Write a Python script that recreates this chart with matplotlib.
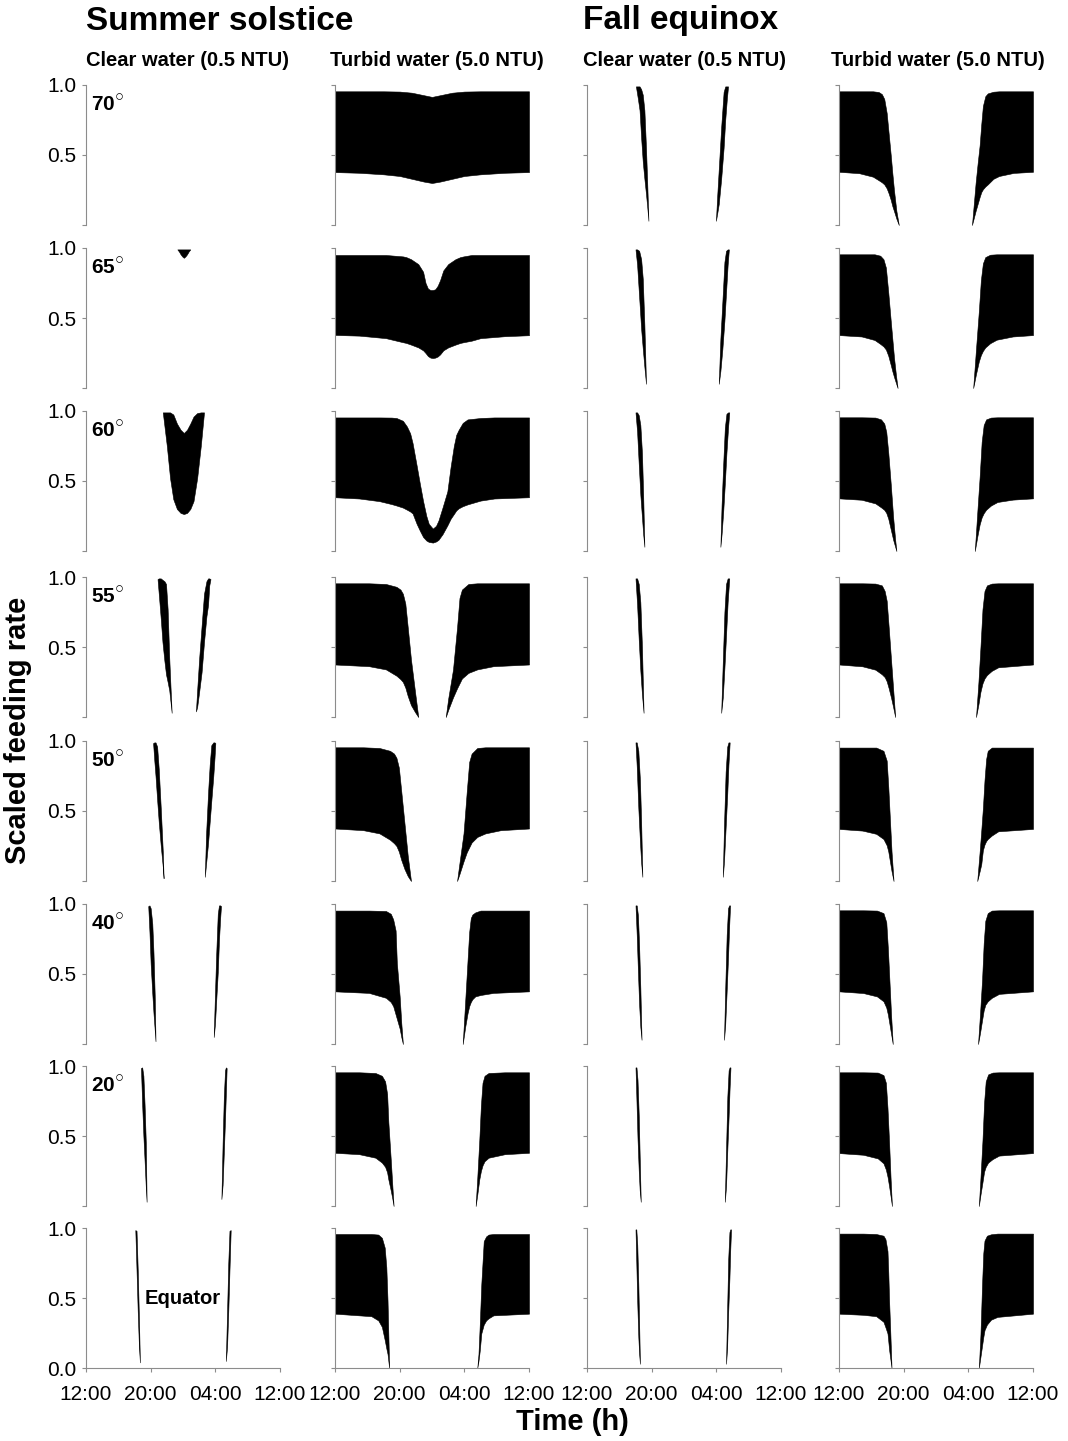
import matplotlib
matplotlib.use("Agg")
import matplotlib.pyplot as plt

plt.rcParams['font.family'] = ['Liberation Sans', 'DejaVu Sans']
plt.rcParams['mathtext.fontset'] = 'custom'
plt.rcParams['mathtext.rm'] = 'Liberation Sans'
plt.rcParams['mathtext.bf'] = 'Liberation Sans:bold'

############### DATA ###############
# time is hours after 12:00 (0..24); each segment is a list of (hour, upper, lower)

LATITUDES = ['70', '65', '60', '55', '50', '40', '20', 'Equator']
TIME_TICKS = [0, 8, 16, 24]
TIME_LABELS = ['12:00', '20:00', '04:00', '12:00']
SEASONS = ['Summer solstice', 'Fall equinox']
WATER = ['Clear water (0.5 NTU)', 'Turbid water (5.0 NTU)']

# --- summer solstice, clear water ---
SC_70 = []
SC_65 = [[(11.3, .99, .99), (11.5, .99, .975), (11.7, .99, .955), (11.9, .99, .94),
          (12.1, .99, .93), (12.3, .99, .94), (12.5, .99, .955), (12.7, .99, .975),
          (12.9, .99, .99)]]
SC_60 = [[(9.5, .99, .99), (9.75, .99, .87), (10.0, .99, .75), (10.4, .99, .52),
          (10.8, .975, .37), (11.25, .91, .30), (11.7, .866, .272), (12.1, .843, .264),
          (12.5, .866, .272), (12.9, .91, .30), (13.3, .96, .356), (13.75, .985, .52),
          (14.2, .99, .75), (14.4, .99, .87), (14.6, .99, .99)]]
SC_55 = [[(8.85, .985, .985), (9.0, .99, .88), (9.25, .99, .70), (9.46, .98, .535),
          (9.7, .97, .40), (9.9, .95, .304), (10.1, .77, .25), (10.3, .42, .19),
          (10.45, .22, .11), (10.6, .03, .03)],
         [(13.6, .04, .04), (13.75, .19, .07), (14.0, .42, .18), (14.3, .65, .32),
          (14.6, .88, .535), (14.9, .97, .72), (15.1, .99, .80), (15.25, .99, .94),
          (15.4, .985, .985)]]
SC_50 = [[(8.3, .985, .985), (8.45, .99, .86), (8.6, .99, .75), (8.8, .96, .58),
          (9.0, .80, .42), (9.25, .52, .25), (9.5, .21, .10), (9.6, .02, .02)],
         [(14.7, .03, .03), (14.85, .33, .12), (15.1, .63, .27), (15.3, .83, .42),
          (15.5, .97, .57), (15.75, .99, .75), (15.9, .99, .88), (16.0, .985, .985)]]
SC_40 = [[(7.7, .985, .985), (7.85, .99, .80), (8.0, .97, .57), (8.2, .86, .36),
          (8.35, .65, .22), (8.5, .35, .10), (8.6, .02, .02)],
         [(15.8, .05, .05), (15.95, .35, .14), (16.1, .63, .30), (16.3, .93, .51),
          (16.45, .99, .74), (16.6, .99, .90), (16.7, .985, .985)]]
SC_20 = [[(6.8, .985, .985), (6.95, .99, .72), (7.1, .93, .50), (7.25, .72, .32),
          (7.4, .45, .13), (7.5, .03, .03)],
         [(16.75, .05, .05), (16.9, .45, .15), (17.05, .78, .38), (17.2, .97, .62),
          (17.3, .99, .80), (17.4, .985, .985)]]
SC_EQ = [[(6.1, .985, .985), (6.25, .98, .70), (6.4, .70, .40), (6.55, .35, .15),
          (6.67, .04, .04)],
         [(17.3, .05, .05), (17.45, .40, .15), (17.6, .75, .40), (17.75, .98, .70),
          (17.9, .985, .985)]]

# --- summer solstice, turbid water ---
ST_70 = [[(0, .955, .378), (3, .955, .373), (6, .955, .362), (8, .953, .35),
          (9.5, .945, .33), (11, .927, .31), (12, .915, .30), (13, .927, .31),
          (14.5, .945, .33), (16, .953, .35), (18, .955, .362), (21, .955, .373),
          (24, .955, .378)]]
ST_65 = [[(0, .95, .379), (3, .95, .374), (6.3, .95, .356), (8.4, .94, .327),
          (8.8, .935, .322), (9.4, .92, .31), (10.3, .885, .29), (10.9, .83, .269),
          (11.2, .75, .25), (11.5, .71, .228), (11.8, .70, .217), (12.1, .70, .214),
          (12.4, .705, .217), (12.7, .73, .225), (13.0, .77, .24), (13.4, .84, .269),
          (14.0, .885, .29), (14.9, .92, .31), (15.5, .935, .322), (15.9, .94, .327),
          (16.9, .95, .338), (18, .95, .356), (21, .95, .37), (24, .95, .377)]]
ST_60 = [[(0, .954, .384), (3, .954, .375), (5.5, .954, .356), (7.0, .953, .335),
          (7.6, .95, .325), (8.4, .93, .31), (8.9, .889, .295), (9.3, .84, .282),
          (9.6, .77, .268), (10.1, .611, .194), (10.5, .48, .145), (10.9, .356, .10),
          (11.3, .25, .075), (11.6, .194, .065), (12.1, .16, .06), (12.5, .18, .068),
          (12.8, .218, .08), (13.3, .31, .12), (13.9, .426, .183), (14.3, .60, .23),
          (14.7, .75, .264), (15.0, .83, .29), (15.3, .866, .305), (15.8, .915, .32),
          (16.4, .94, .333), (18, .95, .36), (19.7, .954, .375), (24, .954, .384)]]
ST_55 = [[(0, .955, .375), (4.2, .955, .363), (6.3, .95, .34), (7.6, .93, .295),
          (8.1, .91, .27), (8.4, .88, .25), (8.7, .81, .21), (9.0, .64, .15),
          (9.4, .41, .085), (9.9, .18, .035), (10.3, 0, 0)],
         [(13.7, 0, 0), (14.0, .13, .05), (14.6, .34, .14), (15.1, .64, .205),
          (15.4, .85, .24), (15.7, .91, .275), (16.5, .95, .315), (17.6, .955, .34),
          (19.6, .955, .363), (24, .955, .375)]]
ST_50 = [[(0, .955, .375), (3.5, .955, .363), (5.5, .95, .34), (6.8, .93, .295),
          (7.3, .91, .27), (7.6, .88, .25), (7.9, .81, .21), (8.2, .64, .15),
          (8.6, .41, .085), (9.0, .18, .035), (9.4, 0, 0)],
         [(15.1, 0, 0), (15.4, .13, .05), (15.9, .34, .14), (16.3, .64, .205),
          (16.6, .85, .24), (16.9, .91, .275), (17.6, .95, .315), (18.6, .955, .34),
          (20.5, .955, .363), (24, .955, .375)]]
ST_40 = [[(0, .953, .376), (4.2, .953, .365), (6.3, .95, .33), (6.9, .93, .30),
          (7.2, .89, .27), (7.5, .81, .21), (7.65, .58, .18), (8.0, .34, .11),
          (8.2, .15, .05), (8.4, 0, 0)],
         [(15.8, 0, 0), (16.1, .30, .12), (16.4, .60, .22), (16.6, .80, .27),
          (16.8, .90, .30), (17.0, .925, .32), (17.35, .94, .34), (18.0, .953, .35),
          (19.6, .953, .365), (24, .953, .376)]]
ST_20 = [[(0, .955, .38), (3.0, .955, .37), (5.0, .95, .345), (5.8, .93, .31),
          (6.2, .89, .28), (6.45, .80, .24), (6.6, .60, .19), (6.9, .33, .11),
          (7.1, .14, .05), (7.25, 0, 0)],
         [(17.4, 0, 0), (17.6, .20, .08), (17.85, .47, .19), (18.05, .72, .25),
          (18.25, .88, .29), (18.5, .93, .32), (19.0, .95, .345), (21, .955, .37),
          (24, .955, .38)]]
ST_EQ = [[(0, .957, .388), (4.5, .957, .37), (5.35, .953, .34), (5.8, .93, .294),
          (6.15, .86, .20), (6.35, .72, .14), (6.5, .48, .10), (6.7, 0, 0)],
         [(17.6, 0, 0), (17.75, .10, .05), (17.9, .30, .12), (18.1, .60, .247),
          (18.4, .906, .31), (18.7, .94, .34), (19.0, .953, .355), (19.6, .957, .376),
          (24, .957, .388)]]

# --- fall equinox, clear water ---
FC_70 = [[(6.05, .99, .99), (6.3, .99, .90), (6.5, .99, .82), (6.7, .97, .62),
          (6.9, .93, .45), (7.1, .82, .33), (7.3, .55, .22), (7.45, .30, .13),
          (7.6, .03, .03)],
         [(15.95, .03, .03), (16.1, .20, .08), (16.3, .40, .15), (16.6, .70, .33),
          (16.9, .95, .55), (17.1, .99, .75), (17.3, .99, .90), (17.45, .99, .99)]]
FC_65 = [[(6.0, .99, .99), (6.2, .99, .88), (6.45, .98, .65), (6.7, .92, .42),
          (6.9, .78, .28), (7.1, .45, .15), (7.3, .03, .03)],
         [(16.3, .03, .03), (16.5, .35, .12), (16.75, .62, .28), (17.0, .90, .48),
          (17.2, .98, .68), (17.4, .99, .88), (17.55, .99, .99)]]
FC_60 = [[(6.0, .99, .99), (6.2, .99, .85), (6.4, .97, .62), (6.6, .90, .40),
          (6.8, .70, .24), (6.95, .40, .12), (7.1, .03, .03)],
         [(16.5, .03, .03), (16.65, .33, .12), (16.85, .62, .28), (17.05, .88, .48),
          (17.25, .98, .70), (17.45, .99, .88), (17.6, .99, .99)]]
FC_55 = [[(6.0, .99, .99), (6.2, .99, .80), (6.4, .95, .55), (6.6, .82, .33),
          (6.8, .50, .16), (7.0, .03, .03)],
         [(16.6, .03, .03), (16.8, .40, .14), (17.0, .75, .35), (17.2, .95, .58),
          (17.4, .99, .82), (17.6, .99, .99)]]
FC_50 = [[(6.0, .99, .99), (6.15, .99, .82), (6.35, .93, .52), (6.55, .72, .28),
          (6.7, .42, .13), (6.85, .03, .03)],
         [(16.8, .03, .03), (16.95, .40, .14), (17.15, .78, .38), (17.35, .96, .62),
          (17.5, .99, .83), (17.65, .99, .99)]]
FC_40 = [[(6.0, .99, .99), (6.15, .99, .78), (6.3, .92, .52), (6.45, .70, .28),
          (6.6, .40, .12), (6.75, .03, .03)],
         [(16.95, .03, .03), (17.1, .40, .14), (17.28, .78, .38), (17.45, .97, .62),
          (17.58, .99, .83), (17.7, .99, .99)]]
FC_20 = [[(6.0, .99, .99), (6.12, .99, .75), (6.25, .90, .48), (6.4, .65, .25),
          (6.52, .35, .11), (6.65, .03, .03)],
         [(17.05, .03, .03), (17.2, .40, .14), (17.36, .78, .40), (17.52, .97, .64),
          (17.64, .99, .84), (17.75, .99, .99)]]
FC_EQ = [[(6.0, .99, .99), (6.1, .99, .75), (6.22, .88, .46), (6.35, .60, .22),
          (6.45, .32, .10), (6.55, .03, .03)],
         [(17.2, .03, .03), (17.33, .40, .14), (17.47, .78, .40), (17.62, .97, .64),
          (17.72, .99, .84), (17.82, .99, .99)]]

# --- fall equinox, turbid water ---
FT_70 = [[(0, .955, .38), (2.5, .955, .37), (4.2, .955, .345), (4.9, .95, .32),
          (5.3, .935, .305), (5.6, .90, .29), (5.9, .80, .262), (6.15, .65, .225),
          (6.4, .50, .18), (6.6, .37, .135), (6.8, .25, .10), (7.1, .10, .045), (7.4, 0, 0)],
         [(16.45, 0, 0), (16.9, .30, .10), (17.15, .44, .15), (17.4, .57, .20),
          (17.6, .72, .235), (17.8, .85, .255), (18.1, .92, .275), (18.4, .94, .29),
          (19.1, .952, .33), (19.8, .955, .35), (21.6, .955, .372), (24, .955, .38)]]
FT_65 = [[(0, .955, .378), (2.8, .955, .368), (4.4, .955, .343), (5.1, .945, .315),
          (5.5, .92, .297), (5.8, .86, .275), (6.1, .68, .23), (6.4, .48, .165),
          (6.6, .35, .12), (6.8, .22, .08), (7.05, .09, .035), (7.25, 0, 0)],
         [(16.6, 0, 0), (16.95, .28, .10), (17.3, .55, .19), (17.55, .77, .235),
          (17.8, .89, .265), (18.1, .935, .29), (18.7, .952, .32), (19.5, .955, .345),
          (21.5, .955, .368), (24, .955, .378)]]
FT_60 = [[(0, .955, .376), (2.8, .955, .366), (4.5, .953, .34), (5.2, .94, .312),
          (5.6, .91, .294), (5.85, .85, .272), (6.1, .70, .23), (6.4, .48, .155),
          (6.7, .24, .08), (6.95, .08, .03), (7.1, 0, 0)],
         [(16.8, 0, 0), (17.1, .27, .10), (17.4, .53, .19), (17.65, .78, .24),
          (17.9, .90, .27), (18.2, .94, .295), (18.8, .953, .325), (19.6, .955, .35),
          (21.5, .955, .367), (24, .955, .376)]]
FT_55 = [[(0, .955, .375), (2.9, .955, .362), (4.5, .953, .338), (5.3, .94, .305),
          (5.65, .90, .285), (5.9, .83, .255), (6.15, .64, .205), (6.45, .40, .135),
          (6.7, .20, .07), (6.95, 0, 0)],
         [(16.95, 0, 0), (17.25, .25, .09), (17.5, .50, .18), (17.75, .77, .24),
          (18.0, .90, .275), (18.3, .94, .30), (18.9, .953, .33), (19.7, .955, .355),
          (24, .955, .375)]]
FT_50 = [[(0, .953, .372), (2.9, .953, .36), (4.6, .953, .337), (5.5, .93, .30),
          (5.9, .86, .255), (6.1, .67, .21), (6.3, .44, .14), (6.5, .21, .07),
          (6.75, 0, 0)],
         [(17.1, 0, 0), (17.4, .21, .07), (17.6, .36, .12), (17.8, .52, .22),
          (18.0, .72, .26), (18.2, .87, .285), (18.4, .93, .30), (18.9, .953, .325),
          (19.7, .953, .355), (24, .953, .372)]]
FT_40 = [[(0, .955, .376), (3.0, .955, .364), (4.7, .953, .34), (5.5, .935, .305),
          (5.85, .87, .26), (6.05, .68, .21), (6.25, .44, .14), (6.45, .20, .07),
          (6.65, 0, 0)],
         [(17.2, 0, 0), (17.45, .22, .08), (17.7, .46, .17), (17.9, .72, .24),
          (18.1, .88, .28), (18.4, .935, .305), (18.9, .953, .33), (19.8, .955, .358),
          (24, .955, .376)]]
FT_20 = [[(0, .955, .378), (3.0, .955, .366), (4.8, .953, .34), (5.5, .935, .305),
          (5.8, .88, .26), (6.0, .70, .21), (6.2, .45, .14), (6.38, .20, .07),
          (6.55, 0, 0)],
         [(17.3, 0, 0), (17.5, .20, .08), (17.75, .47, .17), (17.95, .74, .245),
          (18.15, .89, .28), (18.45, .94, .31), (19.0, .953, .335), (19.8, .955, .36),
          (24, .955, .378)]]
FT_EQ = [[(0, .96, .388), (3.0, .96, .38), (4.6, .957, .37), (5.5, .945, .33),
          (5.75, .92, .29), (6.0, .835, .247), (6.1, .68, .19), (6.2, .48, .13),
          (6.35, .25, .065), (6.5, 0, 0)],
         [(17.3, 0, 0), (17.5, .24, .08), (17.7, .60, .16), (17.85, .82, .22),
          (18.0, .91, .27), (18.3, .945, .31), (18.8, .955, .345), (19.6, .96, .365),
          (24, .96, .388)]]

SUMMER_CLEAR = [SC_70, SC_65, SC_60, SC_55, SC_50, SC_40, SC_20, SC_EQ]
SUMMER_TURBID = [ST_70, ST_65, ST_60, ST_55, ST_50, ST_40, ST_20, ST_EQ]
FALL_CLEAR = [FC_70, FC_65, FC_60, FC_55, FC_50, FC_40, FC_20, FC_EQ]
FALL_TURBID = [FT_70, FT_65, FT_60, FT_55, FT_50, FT_40, FT_20, FT_EQ]
COLUMNS = [SUMMER_CLEAR, SUMMER_TURBID, FALL_CLEAR, FALL_TURBID]


############### LAYOUT ###############

W, H = 1068, 1441
COL_X = [86, 335, 587, 839]
ROW_Y = [85, 248, 411, 577, 741, 904, 1066, 1228]
AX_W, AX_H = 194, 140
GREY = '#8c8c8c'

fig = plt.figure(figsize=(W / 100, H / 100), dpi=100)


def draw_panel(ax, segments, col, row):
    for seg in segments:
        t = [p[0] for p in seg]
        hi = [p[1] for p in seg]
        lo = [p[2] for p in seg]
        ax.fill_between(t, lo, hi, facecolor='black', edgecolor='black', lw=0.4)
    ax.set_xlim(0, 24)
    ax.set_ylim(0, 1)
    for s in ['top', 'right']:
        ax.spines[s].set_visible(False)
    ax.spines['left'].set_color(GREY)
    ax.spines['bottom'].set_color(GREY)
    last = row == len(ROW_Y) - 1
    ax.spines['bottom'].set_visible(last)
    ax.set_yticks([0, 0.5, 1.0])
    if col == 0:
        ax.set_yticklabels(['0.0' if last else '', '0.5', '1.0'])
    else:
        ax.set_yticklabels([])
    if last:
        ax.set_xticks(TIME_TICKS)
        ax.set_xticklabels(TIME_LABELS)
    else:
        ax.set_xticks([])
    ax.tick_params(length=3, width=0.8, color=GREY, labelsize=15, pad=4)
    ax.tick_params(axis='x', pad=9)
    ax.patch.set_visible(False)


for c, col_data in enumerate(COLUMNS):
    for r, segs in enumerate(col_data):
        ax = fig.add_axes([COL_X[c] / W, 1 - (ROW_Y[r] + AX_H) / H, AX_W / W, AX_H / H])
        draw_panel(ax, segs, c, r)
        if c == 0:
            if LATITUDES[r] == 'Equator':
                ax.text(7.3, 0.5, 'Equator', fontsize=14.5, fontweight='bold', va='center')
            else:
                # latitude and degree ring as one label
                ax.text(0.6, 0.86, r'$\mathbf{%s}^{\bigcirc}$' % LATITUDES[r], fontsize=15,
                        va='center')

# titles and axis labels
fig.text(86 / W, 1 - 21 / H, SEASONS[0], fontsize=24, fontweight='bold', va='center')
fig.text(583 / W, 1 - 21 / H, SEASONS[1], fontsize=24, fontweight='bold', va='center')
for x, lab in zip([86, 330, 583, 831], WATER + WATER):
    fig.text(x / W, 1 - 61 / H, lab, fontsize=14.5, fontweight='bold', va='center')
fig.text(18 / W, 1 - 730 / H, 'Scaled feeding rate', fontsize=21, fontweight='bold',
         rotation=90, ha='center', va='center')
fig.text(572 / W, 1 - 1422 / H, 'Time (h)', fontsize=21, fontweight='bold',
         ha='center', va='center')

plt.savefig('out.png', dpi=100)
